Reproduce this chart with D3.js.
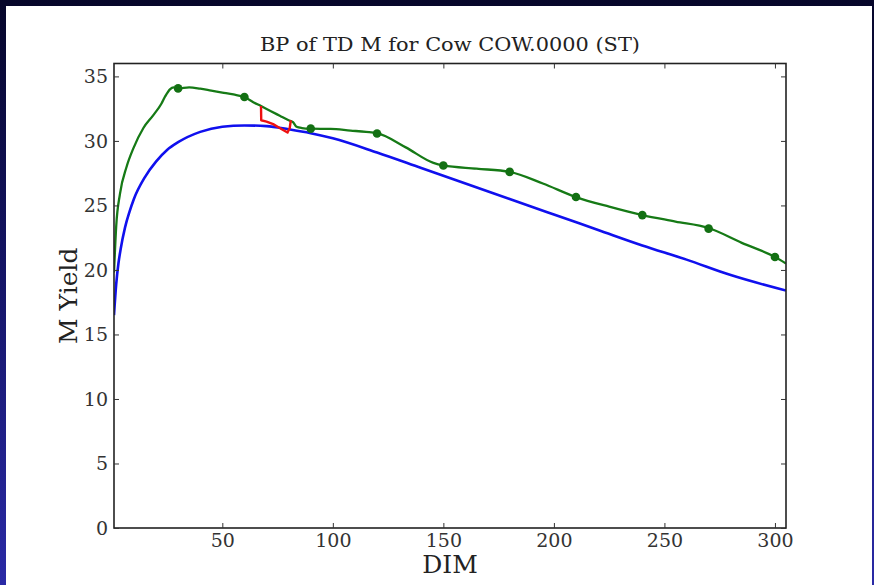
<!DOCTYPE html>
<html><head><meta charset="utf-8">
<script src="https://cdn.jsdelivr.net/npm/d3@7"></script>
<style>html,body{margin:0;padding:0;overflow:hidden;background:#0a0a2c}</style>
</head><body>
<svg id="chart" width="874" height="585"></svg>
<script>
// ---- data ----
const title = "BP of TD M for Cow COW.0000 (ST)";
const xLabel = "DIM";
const yLabel = "M Yield";
const xTicks = [50, 100, 150, 200, 250, 300];
const yTicks = [0, 5, 10, 15, 20, 25, 30, 35];

// blue: predicted lactation curve
const blueDim = [1, 2, 3, 4, 6, 8, 10, 15, 20, 25, 30, 40, 50, 60, 70, 80, 90, 100, 120, 140, 160, 180, 200, 220, 240, 260, 280, 305];
const blueVal = [16.5, 18.9, 20.5, 21.6, 23.3, 24.5, 25.5, 27.2, 28.4, 29.3, 29.9, 30.7, 31.1, 31.2, 31.15, 30.9, 30.6, 30.2, 29.1, 27.9, 26.7, 25.5, 24.3, 23.1, 21.9, 20.8, 19.6, 18.4];

// green: best-prediction curve through the test days
const greenDim = [1, 2, 3.7, 6.7, 9.7, 14.3, 18.8, 22.5, 24, 26.3, 28, 30, 35, 40, 45, 50, 55, 60, 64, 67.5, 72, 76, 80, 82, 83.6, 86, 90, 99, 108, 115, 120, 133, 145.5, 150, 165, 180, 195, 210, 225, 240, 255, 270, 285, 300, 305];
const greenVal = [19.8, 23.4, 25.9, 28.0, 29.4, 31.0, 32.0, 32.9, 33.4, 34.0, 34.15, 34.07, 34.15, 34.05, 33.9, 33.75, 33.6, 33.4, 33.0, 32.7, 32.3, 31.95, 31.6, 31.45, 31.1, 31.0, 30.95, 30.93, 30.8, 30.7, 30.6, 29.5, 28.3, 28.1, 27.85, 27.6, 26.7, 25.65, 24.9, 24.25, 23.75, 23.25, 22.1, 21.0, 20.5];

// test-day records (dots)
const tdDim = [30, 60, 90, 120, 150, 180, 210, 240, 270, 300];
const tdVal = [34.07, 33.4, 30.95, 30.58, 28.1, 27.6, 25.65, 24.25, 23.2, 21.0];

// red: short segment
const redDim = [67.5, 67.6, 70, 73, 75, 77.5, 79.5, 80.5, 81];
const redVal = [32.7, 31.6, 31.5, 31.3, 31.1, 30.85, 30.65, 31.0, 31.6];

// ---- drawing ----
const svg = d3.select("#chart");
const W = 874, H = 585;
const defs = svg.append("defs");
const grad = defs.append("linearGradient").attr("id", "bg").attr("x1", 0).attr("y1", 0).attr("x2", 0).attr("y2", 1);
grad.append("stop").attr("offset", "0%").attr("stop-color", "#06062a");
grad.append("stop").attr("offset", "45%").attr("stop-color", "#141464");
grad.append("stop").attr("offset", "100%").attr("stop-color", "#2a2aa6");
svg.append("rect").attr("width", W).attr("height", H).attr("fill", "url(#bg)");
svg.append("rect").attr("x", 6).attr("y", 6).attr("width", 866).attr("height", H - 6).attr("fill", "#ffffff");

const pL = 114, pR = 786, pT = 63.5, pB = 528;
const x = d3.scaleLinear().domain([1, 305]).range([pL, pR]);
const y = d3.scaleLinear().domain([0, 36]).range([pB, pT]);

const serif = "'DejaVu Serif', 'Liberation Serif', serif";

// title
svg.append("text").attr("x", (pL + pR) / 2).attr("y", 51)
  .attr("text-anchor", "middle").attr("font-family", serif).attr("font-size", 18)
  .attr("fill", "#222").attr("textLength", 380).attr("lengthAdjust", "spacingAndGlyphs").text(title);

// lines
const clip = defs.append("clipPath").attr("id", "clip");
clip.append("rect").attr("x", pL).attr("y", pT).attr("width", pR - pL).attr("height", pB - pT);
const plot = svg.append("g").attr("clip-path", "url(#clip)");

const blue = blueDim.map((d, i) => [d, blueVal[i]]);
const green = greenDim.map((d, i) => [d, greenVal[i]]);
const red = redDim.map((d, i) => [d, redVal[i]]);

const lineSmooth = d3.line().x(d => x(d[0])).y(d => y(d[1])).curve(d3.curveMonotoneX);
const lineLin = d3.line().x(d => x(d[0])).y(d => y(d[1]));

plot.append("path").attr("d", lineSmooth(blue)).attr("fill", "none").attr("stroke", "#1010ee").attr("stroke-width", 2.6);
plot.append("path").attr("d", lineSmooth(green)).attr("fill", "none").attr("stroke", "#167a16").attr("stroke-width", 2.3);
plot.append("path").attr("d", lineLin(red)).attr("fill", "none").attr("stroke", "#ee1010").attr("stroke-width", 2.4).attr("stroke-linejoin", "round");
plot.selectAll("circle.td").data(tdDim.map((d, i) => [d, tdVal[i]])).enter().append("circle")
  .attr("class", "td").attr("cx", d => x(d[0])).attr("cy", d => y(d[1])).attr("r", 4.3).attr("fill", "#137013");

// frame
svg.append("rect").attr("x", pL).attr("y", pT).attr("width", pR - pL).attr("height", pB - pT)
  .attr("fill", "none").attr("stroke", "#222").attr("stroke-width", 1.6);

// axes (ticks inside)
const gx = svg.append("g").attr("transform", `translate(0,${pB})`)
  .call(d3.axisBottom(x).tickValues(xTicks).tickSize(-5).tickPadding(6).tickFormat(d3.format("d")));
const gxTop = svg.append("g").attr("transform", `translate(0,${pT})`)
  .call(d3.axisTop(x).tickValues(xTicks).tickSize(-5).tickFormat(""));
const gy = svg.append("g").attr("transform", `translate(${pL},0)`)
  .call(d3.axisLeft(y).tickValues(yTicks).tickSize(-5).tickPadding(6).tickFormat(d3.format("d")));
const gyR = svg.append("g").attr("transform", `translate(${pR},0)`)
  .call(d3.axisRight(y).tickValues(yTicks).tickSize(-5).tickFormat(""));
[gx, gxTop, gy, gyR].forEach(g => {
  g.select(".domain").remove();
  g.selectAll(".tick line").attr("stroke", "#333").attr("stroke-width", 1);
});
[gx, gy].forEach(g => g.selectAll(".tick text").attr("font-family", serif).attr("font-size", 19).attr("fill", "#333"));

// axis labels
svg.append("text").attr("x", (pL + pR) / 2).attr("y", 573).attr("text-anchor", "middle")
  .attr("font-family", serif).attr("font-size", 25).attr("fill", "#222").text(xLabel);
svg.append("text").attr("transform", `translate(77,${(pT + pB) / 2}) rotate(-90)`).attr("text-anchor", "middle")
  .attr("font-family", serif).attr("font-size", 25).attr("fill", "#222").text(yLabel);
</script>
</body></html>
